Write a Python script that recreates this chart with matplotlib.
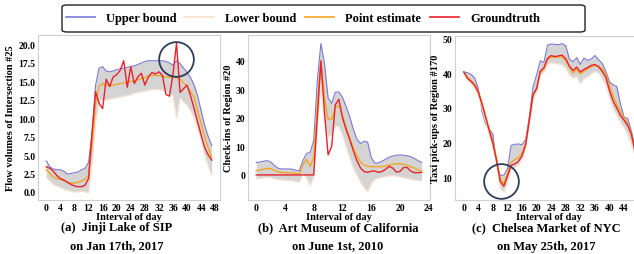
import numpy as np
import matplotlib
matplotlib.use('Agg')
import matplotlib.pyplot as plt
from matplotlib.patches import FancyBboxPatch

plt.rcParams['font.family'] = ['Liberation Serif', 'DejaVu Serif']
plt.rcParams['font.weight'] = 'bold'

# ---- data ----
t48 = np.arange(48)
t_b = np.arange(0, 23.5, 0.5)

# (a) Jinji Lake of SIP
upper_a = [4.2, 3.4, 3.1, 3.0, 3.0, 2.8, 2.4, 2.5, 2.6, 2.7, 3.0, 3.2, 4.0, 8.0, 14.5, 16.8,
           17.0, 16.4, 16.3, 16.4, 16.6, 16.7, 16.8, 16.9, 17.0, 17.1, 17.3, 17.5, 17.7, 17.8,
           17.8, 17.8, 17.8, 17.8, 17.7, 17.5, 17.2, 17.8, 17.4, 16.8, 16.2, 15.5, 14.5, 13.0,
           11.0, 9.0, 7.5, 6.3]
lower_a = [2.0, 1.5, 1.0, 0.8, 0.6, 0.4, 0.2, 0.1, 0.0, 0.0, 0.1, 0.0, -0.1, 4.0, 9.5, 12.3,
           12.5, 12.5, 12.6, 12.7, 12.8, 12.9, 13.0, 13.1, 13.2, 13.4, 13.5, 13.6, 13.7, 13.8,
           13.9, 13.9, 13.9, 13.8, 13.6, 13.4, 13.0, 10.0, 12.8, 12.2, 11.8, 11.0, 10.0, 8.5,
           7.0, 5.0, 3.5, 2.3]
point_a = [3.0, 2.5, 2.0, 1.8, 1.7, 1.5, 1.3, 1.2, 1.2, 1.3, 1.5, 1.7, 2.2, 6.4, 12.0, 14.3,
           14.7, 14.5, 14.4, 14.5, 14.6, 14.7, 14.8, 14.9, 15.0, 15.1, 15.2, 15.4, 15.5, 15.7,
           15.8, 15.8, 15.8, 15.7, 15.6, 15.6, 15.6, 15.5, 15.3, 14.8, 14.3, 13.6, 12.8, 11.0,
           9.3, 7.5, 6.0, 4.6]
truth_a = [3.4, 3.2, 2.8, 2.2, 1.8, 1.6, 1.3, 1.0, 0.8, 0.7, 0.7, 0.9, 1.8, 8.0, 13.6, 12.0,
           11.3, 15.3, 14.3, 15.6, 15.9, 16.5, 17.8, 14.2, 17.0, 14.7, 15.6, 16.1, 14.5, 15.6,
           16.2, 16.0, 16.3, 15.8, 13.2, 13.0, 16.0, 20.2, 13.5, 14.0, 14.5, 13.0, 11.3, 9.5,
           7.7, 6.0, 5.0, 4.3]

# (b) Art Museum of California (half-hour steps)
upper_b = [4.4, 4.5, 4.8, 5.0, 4.6, 3.4, 2.4, 2.1, 2.1, 2.1, 2.0, 1.6, 1.5, 5.0, 7.5, 7.9,
           12.0, 33.0, 46.0, 39.0, 27.0, 25.0, 29.0, 29.0, 27.2, 24.0, 20.5, 16.0, 12.5, 11.0,
           11.8, 11.5, 6.0, 4.2, 4.2, 4.8, 5.5, 6.2, 6.6, 6.9, 7.0, 6.9, 6.7, 6.4, 5.8, 5.0, 4.4]
lower_b = [-1.4, -1.2, -1.0, -0.8, -0.9, -1.3, -1.6, -1.7, -1.8, -1.9, -2.0, -2.2, -2.6, 0.5,
           -1.0, -3.7, -0.5, 18.0, 31.5, 19.0, 13.5, 14.0, 17.0, 17.0, 14.0, 10.0, 6.0, 2.5,
           0.0, -2.5, -4.5, -5.8, -3.0, -1.5, -1.0, -0.8, -0.5, -0.3, -0.2, -0.4, -0.7, -0.9,
           -1.2, -1.5, -1.7, -1.9, -2.0]
point_b = [1.5, 1.7, 2.0, 2.3, 2.2, 1.6, 1.1, 0.9, 0.8, 0.8, 0.7, 0.6, 0.3, 3.5, 5.5, 3.0,
           6.0, 25.0, 39.5, 27.0, 19.5, 19.5, 23.5, 24.3, 21.0, 16.5, 13.0, 9.5, 6.8, 4.5,
           3.5, 3.0, 2.9, 2.9, 2.9, 2.9, 3.1, 3.5, 3.8, 3.9, 3.9, 3.7, 3.3, 2.9, 2.4, 1.8, 1.2]
truth_b = [0, 0, 0, 0, 0, 0, 0, 0, 0, 0, 0, 0, 0, 0, 0, 0,
           0, 20.0, 40.0, 22.0, 7.0, 10.0, 24.5, 26.5, 20.0, 16.0, 12.5, 8.5, 5.0, 2.5,
           1.2, 0.9, 1.3, 1.4, 0.9, 1.2, 2.0, 3.0, 2.4, 1.0, 1.2, 2.6, 2.6, 1.3, 0.8, 0.8, 0.9]

# (c) Chelsea Market of NYC
upper_c = [40.3, 40.1, 39.6, 38.6, 35.5, 29.0, 25.3, 24.0, 22.5, 14.0, 10.7, 10.8, 12.6, 19.3,
           19.6, 19.7, 19.5, 21.0, 27.5, 36.0, 39.5, 43.5, 43.0, 48.0, 48.3, 48.2, 48.1, 48.4,
           47.8, 44.0, 43.2, 44.4, 42.5, 44.3, 43.6, 44.0, 45.0, 43.8, 42.8, 40.5, 37.5, 36.6,
           36.2, 31.2, 27.4, 27.0, 23.5, 19.0]
lower_c = [40.0, 38.0, 36.8, 35.5, 33.5, 30.0, 26.0, 22.5, 18.8, 13.5, 7.0, 5.9, 9.0, 12.5,
           13.0, 13.8, 15.5, 19.0, 25.5, 32.5, 34.5, 39.5, 40.3, 42.5, 43.0, 42.8, 42.6, 42.5,
           41.5, 39.5, 38.5, 39.0, 37.0, 38.5, 39.0, 39.8, 40.5, 40.0, 38.5, 36.5, 33.0, 30.0,
           28.0, 26.0, 24.5, 22.5, 19.5, 16.5]
point_c = [40.3, 38.8, 37.8, 36.7, 34.8, 31.5, 27.8, 24.0, 20.3, 15.6, 9.8, 8.3, 11.3, 14.5,
           15.2, 15.8, 17.0, 20.0, 26.8, 33.5, 35.8, 40.2, 41.2, 43.8, 44.6, 44.5, 44.6, 44.5,
           43.5, 41.6, 40.0, 41.0, 39.8, 40.5, 41.2, 41.8, 42.3, 42.0, 41.2, 39.8, 36.5, 33.5,
           31.0, 29.0, 27.2, 25.5, 23.0, 18.3]
truth_c = [40.3, 38.5, 37.6, 36.5, 34.5, 31.2, 27.3, 23.5, 19.8, 15.0, 9.0, 7.6, 10.5, 13.6,
           14.0, 14.7, 16.3, 19.5, 26.5, 33.8, 35.5, 40.5, 41.5, 44.2, 45.0, 44.7, 44.9, 45.1,
           44.1, 42.0, 40.7, 41.7, 40.3, 41.0, 41.6, 42.2, 42.4, 41.8, 40.5, 38.8, 35.0, 32.0,
           30.0, 27.9, 26.5, 25.0, 22.5, 17.8]

ylabels = ['Flow volumes of Intersection #25', 'Check-ins of Region #20', 'Taxi pick-ups of Region #170']
captions = [('(a)  Jinji Lake of SIP', 'on Jan 17th, 2017'),
            ('(b)  Art Museum of California', 'on June 1st, 2010'),
            ('(c)  Chelsea Market of NYC', 'on May 25th, 2017')]

# circled spots (data coords)
circle_a = (36.8, 18.0)
circle_c = (10.3, 9.2)

W, H = 634, 255
fig = plt.figure(figsize=(W / 100, H / 100), dpi=100)
ax_a = fig.add_axes([0.060, 0.212, 0.287, 0.647])
ax_b = fig.add_axes([0.391, 0.212, 0.287, 0.647])
ax_c = fig.add_axes([0.718, 0.212, 0.297, 0.643])

panels = [(ax_a, t48, upper_a, lower_a, point_a, truth_a),
          (ax_b, t_b, upper_b, lower_b, point_b, truth_b),
          (ax_c, t48, upper_c, lower_c, point_c, truth_c)]

for i, (ax, x, up, lo, pt, gt) in enumerate(panels):
    ax.fill_between(x, lo, up, color='#d4d4d4', lw=0)
    ax.plot(x, up, color='#7a7ad6', lw=0.8, label='Upper bound')
    ax.plot(x, lo, color='#fbe0cc', lw=0.8, label='Lower bound')
    ax.plot(x, pt, color='#f5a623', lw=1.0, label='Point estimate')
    ax.plot(x, gt, color='#e8222a', lw=1.0, label='Groundtruth')
    ax.set_ylabel(ylabels[i], fontsize=7.5, fontweight='bold', labelpad=2)
    ax.set_xlabel('Interval of day', fontsize=7.5, fontweight='bold', labelpad=0)
    ax.tick_params(length=0, labelsize=7, pad=2)
    for sp in ax.spines.values():
        sp.set_color('#cfcfcf')
        sp.set_linewidth(0.8)

ax_a.set_xticks(np.arange(0, 49, 4))
ax_a.set_yticks(np.arange(0, 20.1, 2.5))
ax_a.set_yticklabels(['%.1f' % v for v in np.arange(0, 20.1, 2.5)])
ax_a.set_xlim(-2.35, 49.35)
ax_a.set_ylim(-1.1, 21.3)

ax_b.set_xticks(np.arange(0, 25, 4))
ax_b.set_yticks([0, 10, 20, 30, 40])
ax_b.set_xlim(-1.15, 24.15)
ax_b.set_ylim(-8.75, 49)

ax_c.set_xticks(np.arange(0, 49, 4))
ax_c.set_yticks([10, 20, 30, 40, 50])
ax_c.set_xlim(-2.35, 49.35)
ax_c.set_ylim(3.7, 50.6)

for ax in (ax_a, ax_b, ax_c):
    for lab in ax.get_xticklabels() + ax.get_yticklabels():
        lab.set_fontweight('bold')

ax_a.plot(*circle_a, 'o', ms=25, mfc='none', mec='#2e3d58', mew=1.3)
ax_c.plot(*circle_c, 'o', ms=25, mfc='none', mec='#2e3d58', mew=1.3)

# legend box (drawn separately, wider on the right like the original)
box = FancyBboxPatch((62 / W, 1 - 33 / H), 523 / W, 27 / H, transform=fig.transFigure,
                     boxstyle='round,pad=0,rounding_size=0.008', fc='white',
                     ec='#222222', lw=1.0)
fig.patches.append(box)

handles, labels = ax_a.get_legend_handles_labels()
leg = fig.legend(handles, labels, loc='center left', bbox_to_anchor=(66 / W, 1 - 19.5 / H),
                 ncol=4, frameon=False, borderpad=0, borderaxespad=0,
                 handlelength=2.3, handletextpad=0.9, columnspacing=0.7,
                 prop={'weight': 'bold', 'size': 9})
for ln in leg.get_lines():
    ln.set_linewidth(1.2)

cx = [117 / W, 338 / W, 546 / W]
for i, (l1, l2) in enumerate(captions):
    fig.text(cx[i], 0.106, l1, ha='center', va='center', fontsize=9, fontweight='bold')
    fig.text(cx[i], 0.033, l2, ha='center', va='center', fontsize=9, fontweight='bold')

fig.savefig('out.png', dpi=100)
